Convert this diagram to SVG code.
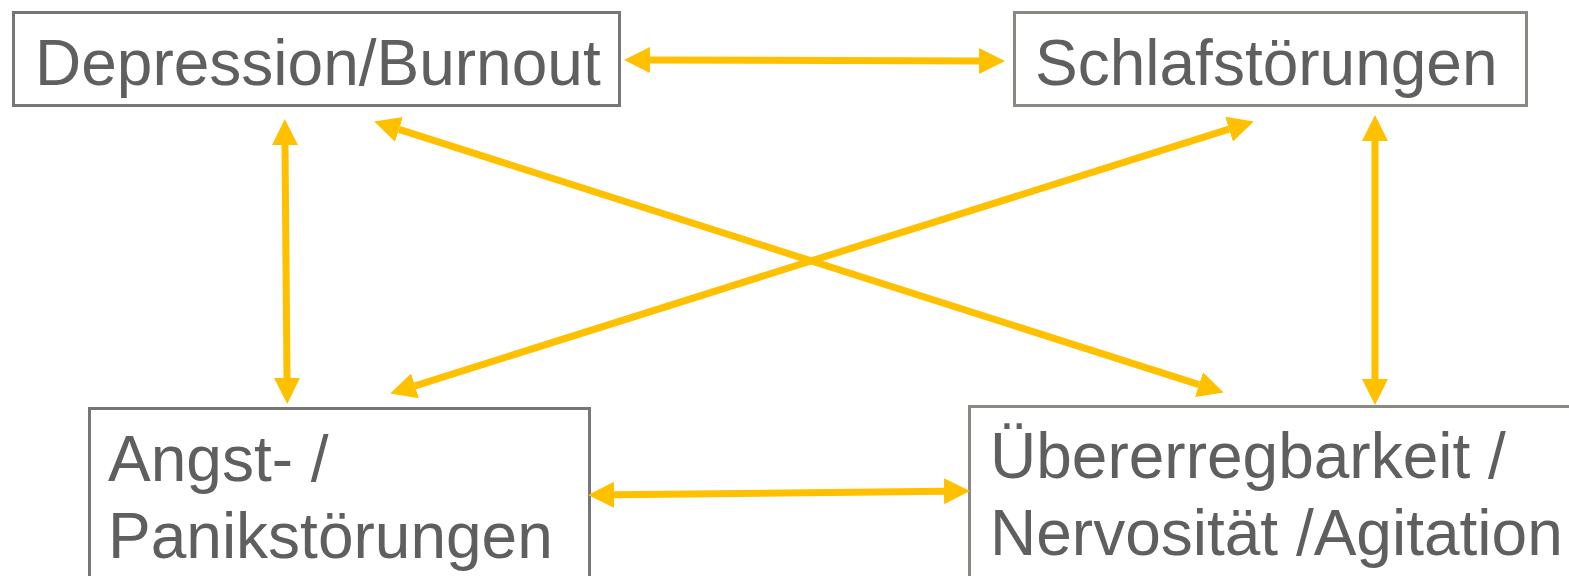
<svg xmlns="http://www.w3.org/2000/svg" width="1569" height="576" viewBox="0 0 1569 576">
  <style>
    .box { fill: #ffffff; stroke-width: 3; }
    .dark { stroke: #767676; }
    .warm { stroke: #8b8883; }
    .label { font-family: "Liberation Sans", Arial, sans-serif; font-size: 64px; fill: #5f5f5f; }
    .link { stroke: #FFC000; stroke-width: 7; fill: none; marker-start: url(#head); marker-end: url(#head); }
  </style>
  <defs>
    <marker id="head" markerUnits="userSpaceOnUse" markerWidth="26" markerHeight="26" viewBox="0 -12 24 24" refX="0" refY="0" orient="auto-start-reverse">
      <path d="M0,-12 L24,0 L0,12 Z" fill="#FFC000"/>
    </marker>
  </defs>

  <rect width="1569" height="576" fill="#ffffff"/>

  <g id="node-depression">
    <rect class="box dark" x="13.5" y="12.5" width="606" height="93"/>
    <text class="label" x="35" y="85">Depression/Burnout</text>
  </g>

  <g id="node-schlaf">
    <rect class="box warm" x="1014.5" y="12.5" width="512" height="93"/>
    <text class="label" x="1035" y="85">Schlafstörungen</text>
  </g>

  <g id="node-angst">
    <rect class="box dark" x="89.5" y="408.5" width="500" height="180"/>
    <text class="label" x="108" y="481">Angst- /</text>
    <text class="label" x="108" y="558">Panikstörungen</text>
  </g>

  <g id="node-erregbarkeit">
    <rect class="box warm" x="969.5" y="406.5" width="610" height="180"/>
    <text class="label" x="990" y="478">Übererregbarkeit /</text>
    <text class="label" x="990" y="555">Nervosität /Agitation</text>
  </g>

  <g id="connectors">
    <line class="link" x1="650" y1="60" x2="979" y2="61"/>
    <line class="link" x1="285" y1="145" x2="287" y2="378"/>
    <line class="link" x1="399" y1="129.3" x2="1199" y2="384.7"/>
    <line class="link" x1="1229" y1="129.2" x2="415" y2="385.8"/>
    <line class="link" x1="1375" y1="141" x2="1375" y2="379"/>
    <line class="link" x1="614" y1="494.8" x2="944" y2="491.2"/>
  </g>
</svg>
